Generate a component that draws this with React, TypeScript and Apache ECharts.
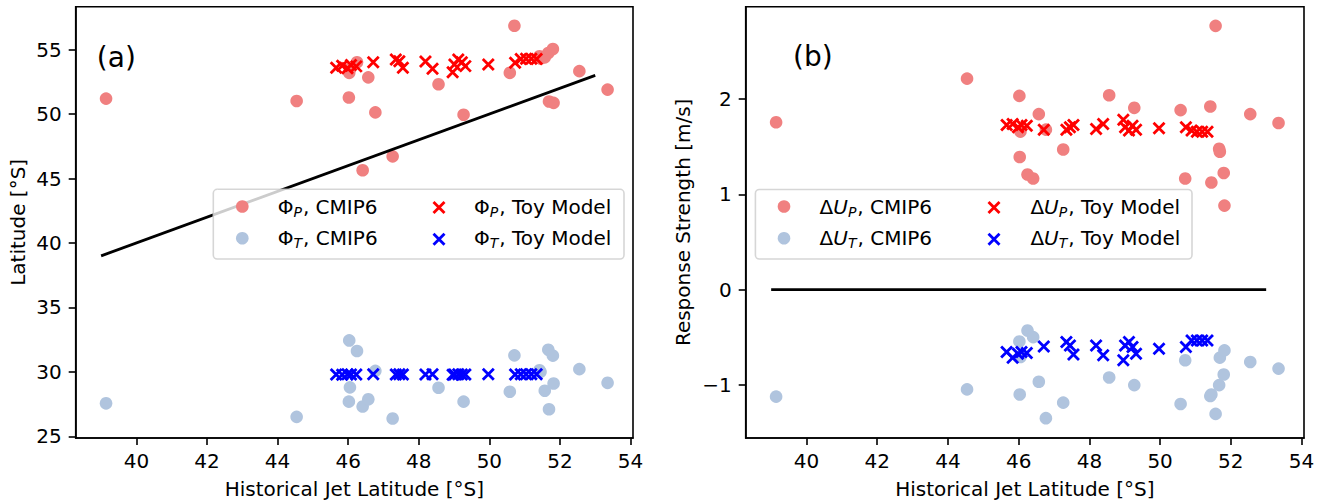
import React, { useEffect, useRef } from 'react';
import * as echarts from 'echarts';

// ---------------- data ----------------
const modelLat = [39.14, 44.54, 46.02, 46.03, 46.05, 46.25, 46.41, 46.57, 46.77, 47.26, 48.56, 49.27, 50.58, 50.71, 51.42, 51.45, 51.57, 51.67, 51.69, 51.8, 51.82, 52.55, 53.35];
const cmipPhiP = [51.2, 51.02, 51.28, 53.2, 53.5, 54.02, 45.64, 52.85, 50.13, 46.72, 52.31, 49.95, 53.2, 56.85, 54.49, 54.3, 54.4, 54.74, 50.98, 55.05, 50.87, 53.33, 51.9];
const cmipPhiT = [27.56, 26.51, 27.69, 32.44, 28.8, 31.62, 27.31, 27.87, 30.08, 26.38, 28.77, 27.69, 28.46, 31.28, 30.13, 30.0, 28.54, 31.72, 27.1, 31.26, 29.1, 30.21, 29.15];
const cmipDUP = [1.755, 2.213, 2.032, 1.391, 1.657, 1.207, 1.165, 1.841, 1.678, 1.47, 2.039, 1.907, 1.883, 1.165, 1.921, 1.123, 2.767, 1.477, 1.446, 1.224, 0.881, 1.841, 1.748];
const cmipDUT = [-1.123, -1.047, -0.544, -1.1, -0.707, -0.43, -0.499, -0.967, -1.349, -1.186, -0.922, -1.002, -1.2, -0.742, -1.117, -1.1, -1.304, -1.002, -0.714, -0.891, -0.638, -0.759, -0.829];

const toyLat = [45.66, 45.83, 45.98, 46.08, 46.23, 46.71, 47.35, 47.45, 47.55, 48.19, 48.39, 48.96, 49.01, 49.12, 49.22, 49.32, 49.97, 50.73, 50.89, 51.04, 51.19, 51.34];
const toyPhiP = [53.6, 53.75, 53.55, 53.8, 53.7, 54.02, 54.23, 54.1, 53.6, 54.08, 53.51, 53.25, 53.85, 54.23, 54.02, 53.72, 53.85, 53.98, 54.28, 54.3, 54.3, 54.28];
const toyPhiT = [29.8, 29.78, 29.82, 29.8, 29.8, 29.82, 29.8, 29.82, 29.8, 29.8, 29.82, 29.78, 29.8, 29.82, 29.8, 29.8, 29.82, 29.8, 29.82, 29.82, 29.82, 29.82];
const toyDUP = [1.727, 1.737, 1.703, 1.727, 1.72, 1.678, 1.678, 1.703, 1.727, 1.685, 1.737, 1.782, 1.703, 1.668, 1.72, 1.678, 1.692, 1.703, 1.668, 1.657, 1.657, 1.657];
const toyDUT = [-0.655, -0.714, -0.673, -0.655, -0.666, -0.596, -0.551, -0.586, -0.68, -0.586, -0.69, -0.742, -0.586, -0.551, -0.603, -0.673, -0.621, -0.603, -0.534, -0.534, -0.534, -0.534];

const refLineLat = [39, 53];
const refLineA = [39, 53];
const refLineB = [0, 0];

const xTicks = [40, 42, 44, 46, 48, 50, 52, 54];
const yTicksA = [25, 30, 35, 40, 45, 50, 55];
const yTicksB = [-1, 0, 1, 2];

// ---------------- styles ----------------
const FONT = 'DejaVu Sans';
const PINK = '#F08080';
const LIGHTBLUE = '#B0C4DE';
const RED = '#FF0000';
const BLUE = '#0000FF';
const XPATH = 'path://M0,0L1,1M1,0L0,1';

const pairs = (xs: number[], ys: number[]) => xs.map((x, i) => [x, ys[i]]);

let measureCtx: CanvasRenderingContext2D | null = null;
function measure(text: string, size: number, italic: boolean) {
  if (!measureCtx) measureCtx = document.createElement('canvas').getContext('2d');
  measureCtx!.font = `${italic ? 'italic ' : ''}${size}px "${FONT}"`;
  return measureCtx!.measureText(text).width;
}

function txt(text: string, x: number, y: number, size: number, italic: boolean, align = 'left') {
  return {
    type: 'text', z: 110, silent: true, x, y,
    style: {
      text, fill: '#000', fontSize: size, fontFamily: FONT,
      fontStyle: italic ? 'italic' : 'normal',
      textAlign: align, textVerticalAlign: 'middle', align, verticalAlign: 'middle',
    },
  };
}

type Part = { t: string; italic?: boolean; sub?: boolean };

function labelEls(parts: Part[], x0: number, y: number) {
  const els: any[] = [];
  let x = x0;
  for (const p of parts) {
    const size = p.sub ? 14 : 20;
    const yy = p.sub ? y + 5 : y;
    els.push(txt(p.t, x, yy, size, !!p.italic));
    x += measure(p.t, size, !!p.italic) + (p.sub ? 1 : 0);
  }
  return els;
}

function circleMarker(cx: number, cy: number, color: string) {
  return { type: 'circle', z: 110, silent: true, shape: { cx, cy, r: 6.3 }, style: { fill: color } };
}
function crossMarker(cx: number, cy: number, color: string) {
  const h = 5.5;
  return [
    { type: 'line', z: 110, silent: true, shape: { x1: cx - h, y1: cy - h, x2: cx + h, y2: cy + h }, style: { stroke: color, lineWidth: 2.8 } },
    { type: 'line', z: 110, silent: true, shape: { x1: cx - h, y1: cy + h, x2: cx + h, y2: cy - h }, style: { stroke: color, lineWidth: 2.8 } },
  ];
}

function legendBox(x1: number, y1: number, x2: number, y2: number) {
  return {
    type: 'rect', z: 105, silent: true,
    shape: { x: x1, y: y1, width: x2 - x1, height: y2 - y1, r: 4 },
    style: { fill: 'rgba(255,255,255,0.8)', stroke: 'rgba(204,204,204,0.8)', lineWidth: 1.6 },
  };
}

function buildLegend(
  box: [number, number, number, number],
  col1Marker: number, col1Text: number, col2Marker: number, col2Text: number,
  rows: [number, number], head: Part[],
) {
  const els: any[] = [legendBox(...box)];
  const subs = ['P', 'T'];
  const cmipColors = [PINK, LIGHTBLUE];
  const toyColors = [RED, BLUE];
  rows.forEach((ry, r) => {
    const base: Part[] = [...head, { t: subs[r], italic: true, sub: true }];
    els.push(circleMarker(col1Marker, ry, cmipColors[r]));
    els.push(...labelEls([...base, { t: ', CMIP6' }], col1Text, ry));
    els.push(...crossMarker(col2Marker, ry + 1, toyColors[r]));
    els.push(...labelEls([...base, { t: ', Toy Model' }], col2Text, ry));
  });
  return els;
}

const axisCommon = {
  type: 'value',
  splitLine: { show: false },
  axisLine: { show: true, onZero: false, lineStyle: { color: '#000', width: 1.6 } },
  nameLocation: 'middle',
  nameTextStyle: { fontSize: 20, color: '#000', fontFamily: FONT },
};
const labelCommon = { fontSize: 20, color: '#000', fontFamily: FONT };
const tickCommon = { show: true, length: 7, lineStyle: { color: '#000', width: 1.6 } };
const minusFmt = (v: number) => String(v).replace('-', '\u2212');

function scatter(name: string, xi: number, data: number[][], color: string, cross: boolean) {
  return {
    type: 'scatter', name, xAxisIndex: xi, yAxisIndex: xi, data, silent: true,
    symbol: cross ? XPATH : 'circle',
    symbolSize: cross ? 11 : 12.6,
    itemStyle: cross ? { color, borderColor: color, borderWidth: 2.8, opacity: 1 } : { color, opacity: 1 },
    emphasis: { disabled: true },
    z: cross ? 4 : 3,
  };
}

export default function App() {
  const ref = useRef<HTMLDivElement>(null);
  useEffect(() => {
    if (!ref.current) return;
    const chart = echarts.init(ref.current, undefined, { renderer: 'svg' });

    const legendA = buildLegend([213.3, 189.3, 624, 259], 242.3, 277.7, 439, 474, [206.5, 238.2], [{ t: 'Φ' }]);
    const legendB = buildLegend([755.4, 189.5, 1192, 259], 784, 819.6, 994, 1030.4, [206.5, 238.2], [{ t: 'Δ' }, { t: 'U', italic: true }]);

    const grids = [
      { left: 75.7, right: 694, top: 6.7, bottom: 62.3 },
      { left: 745.7, right: 23, top: 6.7, bottom: 62.3 },
    ].map((g) => ({ ...g, show: true, borderColor: '#000', borderWidth: 1.6, backgroundColor: 'transparent', containLabel: false }));

    const xAxes = [0, 1].map((i) => ({
      ...axisCommon,
      gridIndex: i,
      min: 38.28, max: 54.07,
      name: 'Historical Jet Latitude [°S]',
      nameGap: 41,
      axisTick: { ...tickCommon, customValues: xTicks },
      axisLabel: { ...labelCommon, margin: 13, customValues: xTicks },
    }));

    const yAxes = [
      {
        ...axisCommon, gridIndex: 0, min: 24.87, max: 58.33,
        name: 'Latitude [°S]', nameGap: 48, nameRotate: 90,
        axisTick: { ...tickCommon, customValues: yTicksA },
        axisLabel: { ...labelCommon, margin: 14, customValues: yTicksA },
      },
      {
        ...axisCommon, gridIndex: 1, min: -1.557, max: 2.968,
        name: 'Response Strength [m/s]', nameGap: 53, nameRotate: 90,
        axisTick: { ...tickCommon, customValues: yTicksB },
        axisLabel: { ...labelCommon, margin: 14, customValues: yTicksB, formatter: minusFmt },
      },
    ];

    const lineSeries = (xi: number, ys: number[]) => ({
      type: 'line', xAxisIndex: xi, yAxisIndex: xi, data: pairs(refLineLat, ys),
      symbol: 'none', silent: true, lineStyle: { color: '#000', width: 2.8 }, z: 5,
    });

    chart.setOption({
      animation: false,
      backgroundColor: '#fff',
      grid: grids,
      xAxis: xAxes,
      yAxis: yAxes,
      series: [
        scatter('ΦP, CMIP6', 0, pairs(modelLat, cmipPhiP), PINK, false),
        scatter('ΦT, CMIP6', 0, pairs(modelLat, cmipPhiT), LIGHTBLUE, false),
        scatter('ΦP, Toy Model', 0, pairs(toyLat, toyPhiP), RED, true),
        scatter('ΦT, Toy Model', 0, pairs(toyLat, toyPhiT), BLUE, true),
        lineSeries(0, refLineA),
        scatter('ΔUP, CMIP6', 1, pairs(modelLat, cmipDUP), PINK, false),
        scatter('ΔUT, CMIP6', 1, pairs(modelLat, cmipDUT), LIGHTBLUE, false),
        scatter('ΔUP, Toy Model', 1, pairs(toyLat, toyDUP), RED, true),
        scatter('ΔUT, Toy Model', 1, pairs(toyLat, toyDUT), BLUE, true),
        lineSeries(1, refLineB),
      ],
      graphic: [
        txt('(a)', 116.3, 57.4, 28, false, 'center'),
        txt('(b)', 812.8, 56.6, 28, false, 'center'),
        ...legendA,
        ...legendB,
      ],
    });
    return () => chart.dispose();
  }, []);
  return <div ref={ref} style={{ position: 'absolute', left: 0, top: 0, width: 1327, height: 504 }} />;
}
